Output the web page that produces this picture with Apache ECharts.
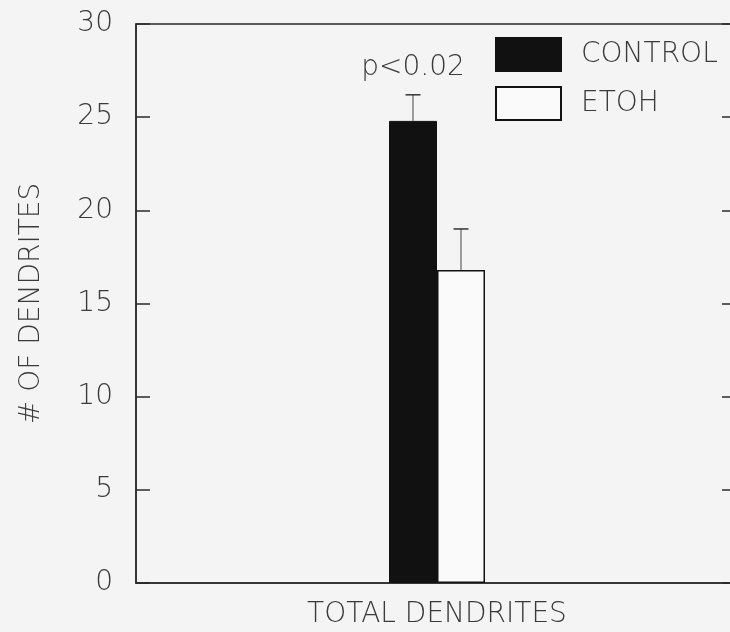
<!DOCTYPE html>
<html>
<head>
<meta charset="utf-8">
<script src="https://cdn.jsdelivr.net/npm/echarts@6/dist/echarts.min.js"></script>
<style>
  html, body { margin: 0; padding: 0; background: #f4f4f4; }
  #chart { width: 730px; height: 632px; }
</style>
</head>
<body>
<div id="chart"></div>
<script>
// Dendrite counts per group
const categories = ['TOTAL DENDRITES'];
const seriesNames = ['CONTROL', 'ETOH'];
const controlMeans = [24.8];
const controlErrors = [1.4];
const etohMeans = [16.8];
const etohErrors = [2.2];
const significance = ['p<0.02'];
const yTicks = { min: 0, max: 30, interval: 5 };

const FONT = "'DejaVu Sans', sans-serif";
const INK = '#2a2a2a';
const TEXT = '#3a3a3a';
const BAR_W = 48;

// one row per bar: [categoryIndex, mean, error, side(-1 left / +1 right), label]
const errorRows = [];
categories.forEach((c, i) => {
  errorRows.push([i, controlMeans[i], controlErrors[i], -1, significance[i] || '']);
  errorRows.push([i, etohMeans[i], etohErrors[i], 1, '']);
});

const chart = echarts.init(document.getElementById('chart'), null, { renderer: 'canvas' });

chart.setOption({
  backgroundColor: '#f4f4f4',
  animation: false,
  grid: {
    left: 136, right: -8, top: 24, bottom: 49,
    outerBoundsMode: 'none',
    containLabel: false,
    show: true, borderColor: INK, borderWidth: 1.5, backgroundColor: 'transparent'
  },
  legend: {
    orient: 'vertical',
    left: 495, top: 37, padding: 0,
    icon: 'rect',
    itemWidth: 65, itemHeight: 33, itemGap: 14,
    data: seriesNames,
    textStyle: { fontFamily: FONT, fontSize: 28, fontWeight: 200, color: TEXT, padding: [0, 0, 0, 15] },
    selectedMode: false
  },
  xAxis: {
    type: 'category',
    data: categories,
    axisLine: { lineStyle: { color: INK, width: 1.5 } },
    axisTick: { show: false },
    axisLabel: { fontFamily: FONT, fontSize: 28, fontWeight: 200, color: TEXT, margin: 18 }
  },
  yAxis: [
    {
      type: 'value',
      min: yTicks.min, max: yTicks.max, interval: yTicks.interval,
      name: '# OF DENDRITES',
      nameLocation: 'middle',
      nameGap: 90,
      nameTextStyle: { fontFamily: FONT, fontSize: 28, fontWeight: 200, color: TEXT },
      axisLine: { show: true, lineStyle: { color: INK, width: 1.5 } },
      axisTick: { show: true, inside: true, length: 14, lineStyle: { color: INK, width: 1.5 } },
      axisLabel: { fontFamily: FONT, fontSize: 28, fontWeight: 200, color: TEXT, margin: 23 },
      splitLine: { show: false }
    },
    {
      type: 'value', position: 'right',
      min: yTicks.min, max: yTicks.max, interval: yTicks.interval,
      axisLine: { show: true, lineStyle: { color: INK, width: 1.5 } },
      axisTick: { show: true, inside: true, length: 16, lineStyle: { color: INK, width: 1.5 } },
      axisLabel: { show: false },
      splitLine: { show: false }
    }
  ],
  series: [
    {
      name: seriesNames[0], type: 'bar', barWidth: BAR_W, barGap: '0%',
      data: controlMeans,
      itemStyle: { color: '#111', borderColor: '#111', borderWidth: 1 }
    },
    {
      name: seriesNames[1], type: 'bar', barWidth: BAR_W, barGap: '0%',
      data: etohMeans,
      itemStyle: { color: '#fafafa', borderColor: '#111', borderWidth: 1.5 }
    },
    {
      type: 'custom',
      data: errorRows,
      z: 5,
      renderItem: function (params, api) {
        const cat = api.value(0), mean = api.value(1), err = api.value(2), side = api.value(3);
        const label = errorRows[params.dataIndex][4];
        const base = api.coord([cat, mean]);
        const top = api.coord([cat, mean + err]);
        const x = base[0] + side * BAR_W / 2;
        const capHalf = 7.5;
        const children = [
          { type: 'line', shape: { x1: x, y1: base[1], x2: x, y2: top[1] },
            style: { stroke: '#444', lineWidth: 1 } },
          { type: 'line', shape: { x1: x - capHalf, y1: top[1], x2: x + capHalf, y2: top[1] },
            style: { stroke: '#333', lineWidth: 1.5 } }
        ];
        if (label) {
          children.push({
            type: 'text',
            style: {
              text: label, x: x, y: top[1] - 13,
              textAlign: 'center', textVerticalAlign: 'bottom',
              fontFamily: FONT, fontSize: 28, fontWeight: 200, fill: TEXT
            }
          });
        }
        return { type: 'group', children: children };
      }
    }
  ]
});
</script>
</body>
</html>
